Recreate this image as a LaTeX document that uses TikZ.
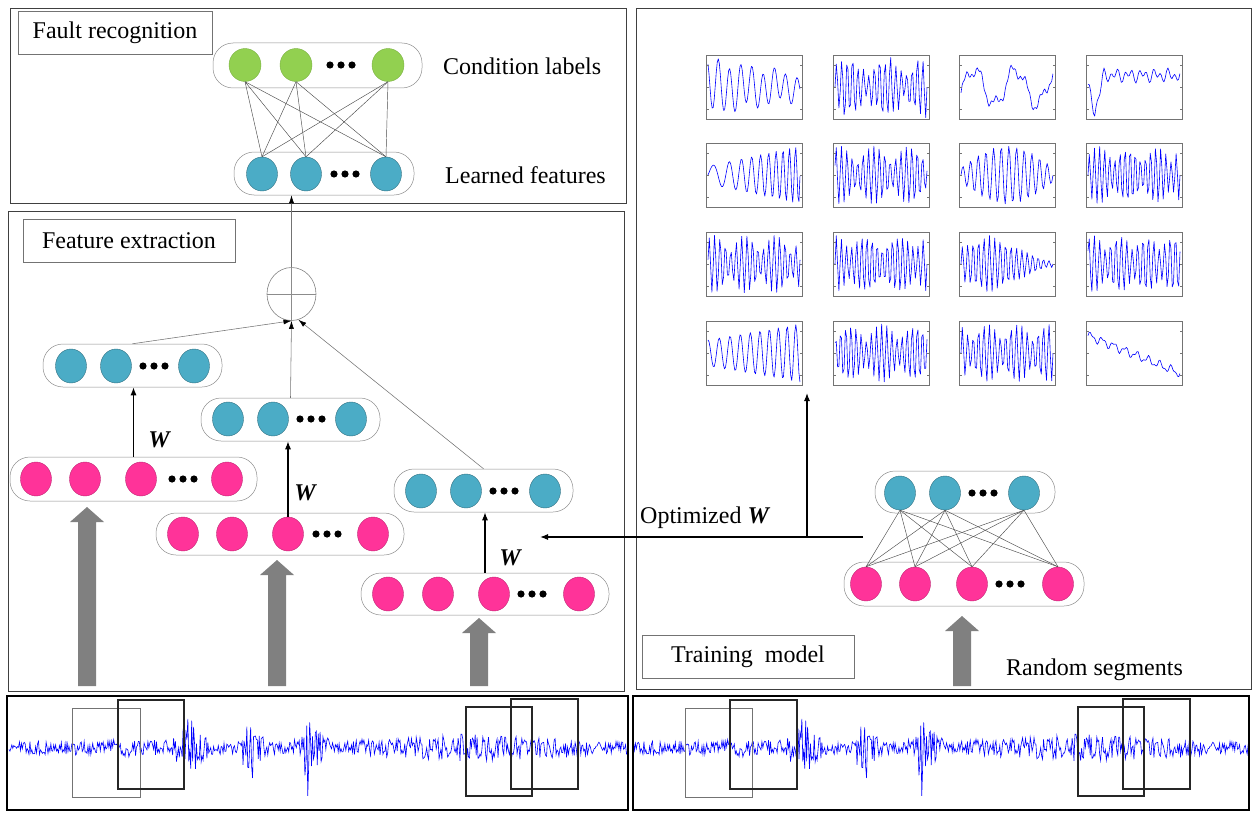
\documentclass[tikz,border=0pt]{standalone}
\usepackage{fontspec}
\setmainfont{Liberation Serif}
\usetikzlibrary{shapes.geometric,arrows.meta,calc}
\definecolor{pinkn}{HTML}{FF3399}
\definecolor{bluen}{HTML}{4BACC6}
\definecolor{greenn}{HTML}{92D050}
\definecolor{sigblue}{HTML}{0000FF}
\definecolor{agray}{HTML}{808080}
\newcommand\mylbl{\fontsize{24}{28}\selectfont}
\newcommand\mywfont{\fontsize{24}{28}\selectfont\bfseries\itshape}
\newcommand\mybigarrow[3]{\fill[agray] ({#1-9},#3) -- ({#1-9},{#2+15}) -- ({#1-17},{#2+15}) -- (#1,#2) -- ({#1+17},{#2+15}) -- ({#1+9},{#2+15}) -- ({#1+9},#3) -- cycle;}
\newcommand\mythumb[4]{%
  \draw[thumbframe] (#1,#2) rectangle ++(96,64);
  \begin{scope}
    \clip (#1,#2) rectangle ++(96,64);
    \draw[sigblue,line width=0.6pt,line join=round] plot[domain=0:1,samples=#4,variable=\t] ({#1+2+92*\t},{#2+32-29*(#3)});
  \end{scope}
  \foreach \k in {10,32,54} {\draw[thumbframe,line width=0.5pt] (#1,{#2+\k}) -- ++(2.5,0); \draw[thumbframe,line width=0.5pt] ({#1+96},{#2+\k}) -- ++(-2.5,0);}
}
\tikzset{
  neuron/.style={ellipse,inner sep=0pt,minimum width=31pt,minimum height=34pt,line width=0.4pt},
  pk/.style={neuron,fill=pinkn,draw=pinkn!75!black},
  bl/.style={neuron,fill=bluen,draw=bluen!65!black},
  gr/.style={neuron,fill=greenn,draw=greenn!85!black,minimum width=32pt,minimum height=33pt},
  layer/.style={draw=black!45,line width=0.5pt,rounded corners=20pt,inner sep=0pt,minimum height=43pt},
  panel/.style={draw=black!75,line width=0.9pt},
  sigframe/.style={draw=black,line width=1.4pt},
  tagbox/.style={draw=black!55,line width=0.6pt,inner sep=0pt,minimum height=43pt,font=\mylbl},
  lbl/.style={font=\mylbl,inner sep=0pt},
  wlab/.style={font=\mywfont,inner sep=0pt},
  link/.style={draw=black!70,line width=0.45pt},
  warr/.style={draw=black,line width=1.1pt,-{Latex[length=8pt,width=6pt]}},
  sumarr/.style={draw=black!55,line width=0.55pt,-{Latex[length=8pt,width=5pt,color=black]}},
  thumbframe/.style={draw=black!55,line width=0.8pt},
  wingray/.style={draw=black!55,line width=1pt},
  windark/.style={draw=black!85,line width=1.2pt},
  threedots/.pic={\foreach \d in {-11,0,11} \fill[black] (\d,0) circle[radius=3.6pt];},
  declare function={envl(\u)=9+34*max(0,1-abs(\u-190)/20)+32*max(0,1-abs(\u-252)/16)+58*max(0,1-abs(\u-306)/5)+22*max(0,1-abs(\u-312)/20)+10*max(0,1-abs(\u-470)/130)+4*max(0,1-abs(\u-120)/40);}
}
\begin{document}
\begin{tikzpicture}[x=1pt,y=-1pt]
\useasboundingbox (0,0) rectangle (1256,816);
% panels
\draw[panel] (10,8) rectangle (626,203);
\draw[panel] (8,211) rectangle (624,691);
\draw[panel] (636,8) rectangle (1251,689);

% tags
\node[tagbox,minimum width=194pt] (tagFR) at (115,33) {Fault recognition};
\node[tagbox,minimum width=212pt] (tagFE) at (129,240.5) {Feature extraction};
\node[tagbox,minimum width=212pt] (tagTM) at (748,656.5) {Training~ model};

% ---------- fault recognition ----------
\node[layer,minimum width=209pt,minimum height=45pt] (cl) at (317.5,65.5) {};
\node[gr] (g1) at (245,65) {};
\node[gr] (g2) at (296,65) {};
\node[gr] (g3) at (388,65) {};
\pic at (341,65) {threedots};
\node[layer,minimum width=180pt] (lf) at (324,173.5) {};
\node[bl] (f1) at (262,174) {};
\node[bl] (f2) at (306,174) {};
\node[bl] (f3) at (386,174) {};
\pic at (345,174) {threedots};
\foreach \a in {g1,g2,g3} \foreach \b in {f1,f2,f3} \draw[link] (\a.south) -- (\b.north);
\node[lbl,anchor=west] (tcl) at (443,66) {Condition labels};
\node[lbl,anchor=west] (tlf) at (445,175) {Learned features};

% ---------- feature extraction ----------
\node[ellipse,draw=black!50,line width=0.6pt,minimum width=49pt,minimum height=53pt,inner sep=0pt] (plus) at (291.5,294) {};
\draw[black!45,line width=0.6pt] (plus.north) -- (plus.south) (plus.west) -- (plus.east);
\draw[sumarr] (plus.north) -- (plus.north |- lf.south);

% level 1
\node[layer,minimum width=179pt] (c1b) at (132.5,365.5) {};
\node[bl] (b11) at (71,366) {};
\node[bl] (b12) at (116,366) {};
\node[bl] (b13) at (194,366) {};
\pic at (154,366) {threedots};
\node[layer,minimum width=247pt,minimum height=44pt] (c1p) at (133.5,479) {};
\node[pk] (p11) at (36,479) {};
\node[pk] (p12) at (85,479) {};
\node[pk] (p13) at (141,479) {};
\node[pk] (p14) at (227,479) {};
\pic at (183,479) {threedots};
\draw[warr] (c1p.north) -- (c1p.north |- c1b.south);
\node[wlab] (w1) at (159,440) {W};

% level 2
\node[layer,minimum width=179pt] (c2b) at (290.5,419.5) {};
\node[bl] (b21) at (228,419) {};
\node[bl] (b22) at (273,419) {};
\node[bl] (b23) at (351,419) {};
\pic at (311,419) {threedots};
\node[layer,minimum width=248pt,minimum height=42pt] (c2p) at (280,534) {};
\node[pk] (p21) at (183,534) {};
\node[pk] (p22) at (232,534) {};
\node[pk] (p23) at (288,534) {};
\node[pk] (p24) at (373,534) {};
\pic at (327,534) {threedots};
\draw[warr] (p23.north) -- (p23.north |- c2b.south);
\node[wlab] (w2) at (305,493) {W};

% level 3
\node[layer,minimum width=179pt] (c3b) at (483.5,490.5) {};
\node[bl] (b31) at (421,491) {};
\node[bl] (b32) at (466,491) {};
\node[bl] (b33) at (545,491) {};
\pic at (504,491) {threedots};
\node[layer,minimum width=248pt,minimum height=42pt] (c3p) at (485,594) {};
\node[pk] (p31) at (388,594) {};
\node[pk] (p32) at (438,594) {};
\node[pk] (p33) at (494,594) {};
\node[pk] (p34) at (579,594) {};
\pic at (532,594) {threedots};
\draw[warr] (c3p.north) -- (c3p.north |- c3b.south);
\node[wlab] (w3) at (510,558) {W};

% to sum
\draw[sumarr] (c1b.north) -- (plus.south);
\draw[sumarr] (c2b.north) -- (plus.south);
\draw[sumarr] (c3b.north) -- (plus.-75);

% big arrows
\mybigarrow{87}{507}{686}
\mybigarrow{277}{560}{686}
\mybigarrow{479}{618}{686}

% ---------- training ----------
\node[layer,minimum width=180pt,minimum height=42pt] (tb) at (965,492) {};
\node[bl] (tb1) at (900,493) {};
\node[bl] (tb2) at (945,493) {};
\node[bl] (tb3) at (1024,493) {};
\pic at (983,493) {threedots};
\node[layer,minimum width=240pt,minimum height=44pt] (tp) at (964,584) {};
\node[pk] (tp1) at (866,584) {};
\node[pk] (tp2) at (915,584) {};
\node[pk] (tp3) at (972,584) {};
\node[pk] (tp4) at (1058,584) {};
\pic at (1010,584) {threedots};
\foreach \a in {tb1,tb2,tb3} \foreach \b in {tp1,tp2,tp3,tp4} \draw[link] (\a.south) -- (\b.north);
\mybigarrow{962}{616}{686}
\node[lbl,anchor=west] (trs) at (1006,670) {Random segments};

% optimized W
\coordinate (oR) at (863,537);
\coordinate (oL) at (540,537);
\coordinate (oJ) at (807,537);
\coordinate (oT) at (807,393);
\draw[warr] (oR) -- (oL);
\draw[warr] (oJ) -- (oT);
\node[lbl,anchor=west] (topt) at (640,518) {Optimized \textbf{\textit{W}}};

% thumbnails
\mythumb{706}{55}{(0.9-0.5*\t)*sin(360*8.2*\t+120)+0.15*sin(360*3*\t)}{90}
\mythumb{833}{55}{(0.35+0.65*abs(sin(360*1.2*\t+30)))*sin(360*17*\t)+0.1*sin(360*7*\t)}{72}
\mythumb{959}{55}{0.6*sin(360*2.2*\t-20)+0.22*sin(360*6*\t)+0.08*sin(360*19*\t)}{80}
\mythumb{1086}{55}{0.4+0.15*sin(360*13*\t)+0.12*sin(360*7*\t+40)-1.3*max(0,1-abs(\t-0.07)/0.1)}{70}
\mythumb{706}{143}{(0.3+0.7*\t)*sin(360*(4*\t+6*\t*\t))}{90}
\mythumb{833}{143}{(0.4+0.6*abs(sin(360*1.3*\t+70)))*sin(360*17*\t+20)}{72}
\mythumb{959}{143}{(0.25+0.75*sin(180*\t))*sin(360*12*\t)}{80}
\mythumb{1086}{143}{(0.45+0.55*abs(sin(360*1.6*\t+20)))*sin(360*18*\t)}{72}
\mythumb{706}{232}{(0.4+0.6*abs(sin(360*1.5*\t+50)))*sin(360*17*\t+10)}{72}
\mythumb{833}{232}{(0.5+0.5*abs(sin(360*1.4*\t+100)))*sin(360*18*\t)}{72}
\mythumb{959}{232}{(0.12+0.88*max(0,1-abs(\t-0.3)*1.6))*sin(360*17*\t)}{72}
\mythumb{1086}{232}{(0.45+0.55*abs(sin(360*1.7*\t+60)))*sin(360*17*\t+30)}{72}
\mythumb{706}{321}{(0.45+0.55*\t)*sin(360*(8*\t+1.5*\t*\t)+90)}{90}
\mythumb{833}{321}{(0.4+0.6*abs(sin(360*1.4*\t+10)))*sin(360*18*\t+45)}{72}
\mythumb{959}{321}{(0.45+0.55*abs(sin(360*1.5*\t+120)))*sin(360*17*\t)}{72}
\mythumb{1086}{321}{0.6-1.3*\t+0.12*sin(360*8*\t)+0.06*sin(360*17*\t)}{80}

% ---------- signals ----------
\begin{scope}
  \clip (8,697) rectangle (627,809);
  \pgfmathsetseed{7}
  \draw[sigblue,line width=0.6pt] plot[domain=9:636,samples=660,variable=\s] (\s,{748+envl(\s)*(0.75*rand+0.25*rand*rand*rand)});
\end{scope}
\begin{scope}
  \clip (634,697) rectangle (1248,809);
  \begin{scope}[xshift=614pt]
  \pgfmathsetseed{7}
  \draw[sigblue,line width=0.6pt] plot[domain=9:636,samples=660,variable=\s] (\s,{748+envl(\s)*(0.75*rand+0.25*rand*rand*rand)});
  \end{scope}
\end{scope}
\draw[sigframe] (7,696) rectangle (628,810);
\draw[sigframe] (633,696) rectangle (1249,810);
\draw[wingray] (72,708) rectangle (140,797);
\draw[windark] (118,700) rectangle (184,789);
\draw[windark] (466,707) rectangle (532,796);
\draw[windark] (511,699) rectangle (578,789);
\draw[wingray] (685,708) rectangle (752,797);
\draw[windark] (730,700) rectangle (797,789);
\draw[windark] (1078,707) rectangle (1144,796);
\draw[windark] (1123,699) rectangle (1190,789);
\end{tikzpicture}
\end{document}
